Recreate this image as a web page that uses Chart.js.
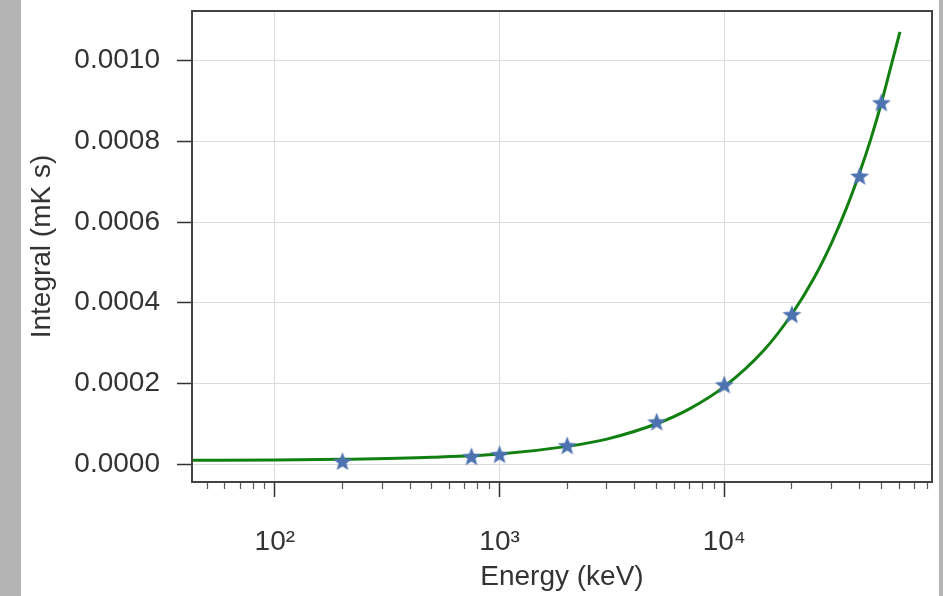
<!DOCTYPE html>
<html>
<head>
<meta charset="utf-8">
<script src="https://cdn.jsdelivr.net/npm/chart.js@4"></script>
<style>
  html, body { margin: 0; padding: 0; background: #b4b4b4; }
  #wrap { width: 943px; height: 596px; position: relative;
    background: linear-gradient(to right, #b4b4b4 0 21px, #ffffff 21px 939px, #b4b4b4 939px); }
  canvas { display: block; }
</style>
</head>
<body>
<div id="wrap"><canvas id="chart" width="943" height="596"></canvas></div>
<script>
// fitted curve
const curveEnergy = [43, 100, 200, 500, 1000, 2000, 3000, 5000, 7000, 10000, 15000, 20000, 25000, 30000, 35000, 40000, 45000, 50000, 55000, 60500];
const curveIntegral = [0.0000095, 0.000010, 0.000012, 0.000017, 0.000025, 0.000044, 0.000062, 0.000100, 0.000137, 0.000192, 0.000282, 0.000372, 0.000460, 0.000548, 0.000635, 0.000722, 0.000808, 0.000895, 0.000983, 0.001071];

// measured points (stars)
const starEnergy = [200, 750, 1000, 2000, 5000, 10000, 20000, 40000, 50000];
const starIntegral = [0.000005, 0.000017, 0.000022, 0.000044, 0.000103, 0.000195, 0.000369, 0.000712, 0.000894];

const yTicks = [0, 0.0002, 0.0004, 0.0006, 0.0008, 0.0010];
const xMajorTicks = [100, 1000, 10000];
const xMajorLabels = { 100: '10²', 1000: '10³', 10000: '10⁴' };

const textColor = '#333333';
const font = { family: 'Liberation Sans, Arial, sans-serif', size: 28 };

function starImage(r, color) {
  const c = document.createElement('canvas');
  c.width = c.height = r * 2 + 2;
  const g = c.getContext('2d');
  g.beginPath();
  for (let i = 0; i < 10; i++) {
    const rad = i % 2 === 0 ? r : r * 0.42;
    const a = -Math.PI / 2 + i * Math.PI / 5;
    const px = r + 1 + rad * Math.cos(a), py = r + 1 + rad * Math.sin(a);
    if (i === 0) g.moveTo(px, py); else g.lineTo(px, py);
  }
  g.closePath();
  g.fillStyle = color;
  g.fill();
  return c;
}

const minorTicks = [];
[10, 100, 1000, 10000].forEach(d => {
  for (let s = 2; s <= 9; s++) minorTicks.push(s * d);
});

const xMin = 42.8, xMax = 84000;

function noPad(s) {
  s.paddingTop = 0; s.paddingBottom = 0; s.paddingLeft = 0; s.paddingRight = 0;
}

new Chart(document.getElementById('chart'), {
  type: 'scatter',
  data: {
    datasets: [
      {
        label: 'fit',
        data: curveEnergy.map((e, i) => ({ x: e, y: curveIntegral[i] })),
        showLine: true,
        borderColor: '#118011',
        borderWidth: 3,
        pointRadius: 0,
        cubicInterpolationMode: 'monotone',
        order: 2
      },
      {
        label: 'data',
        data: starEnergy.map((e, i) => ({ x: e, y: starIntegral[i] })),
        pointStyle: starImage(10, '#4c72b0'),
        pointRadius: 10,
        order: 1
      }
    ]
  },
  options: {
    responsive: false,
    animation: false,
    layout: { padding: { left: 0, right: 10, top: 8, bottom: 0 } },
    plugins: { legend: { display: false }, tooltip: { enabled: false } },
    scales: {
      x: {
        type: 'logarithmic',
        min: xMin, max: xMax,
        weight: 1,
        afterBuildTicks: s => { s.ticks = xMajorTicks.map(v => ({ value: v })); },
        afterFit: s => { s.height = 114; noPad(s); },
        ticks: { font, color: textColor, padding: 28, maxRotation: 0,
          callback: v => xMajorLabels[v] || '' },
        grid: { color: '#dcdcdc', lineWidth: 1, tickLength: 15, tickColor: '#333333', tickWidth: 1.5 },
        border: { color: '#444444', width: 2 },
        title: { display: true, text: 'Energy (keV)', font, color: textColor, padding: { top: 0, bottom: 2 } }
      },
      xMinor: {
        type: 'logarithmic',
        position: 'bottom',
        min: xMin, max: xMax,
        weight: 0,
        afterBuildTicks: s => { s.ticks = minorTicks.filter(v => v > xMin && v < xMax).map(v => ({ value: v })); },
        afterFit: s => { s.height = 0; noPad(s); },
        ticks: { display: false },
        grid: { drawOnChartArea: false, tickLength: 7, tickColor: '#555555', tickWidth: 1.2 },
        border: { display: false }
      },
      y: {
        min: -0.0000443, max: 0.001123,
        afterBuildTicks: s => { s.ticks = yTicks.map(v => ({ value: v })); },
        afterFit: s => { s.width = 192; noPad(s); },
        ticks: { font, color: textColor, padding: 17, callback: v => v.toFixed(4) },
        grid: { color: '#dcdcdc', lineWidth: 1, tickLength: 15, tickColor: '#333333', tickWidth: 1.5 },
        border: { color: '#444444', width: 2 },
        title: { display: true, text: 'Integral (mK s)', font, color: textColor, padding: { top: 25, bottom: 0 } }
      }
    }
  },
  plugins: [{
    id: 'frame',
    afterDraw(chart) {
      const { ctx, chartArea: a } = chart;
      ctx.save();
      ctx.strokeStyle = '#444444';
      ctx.lineWidth = 2;
      ctx.strokeRect(a.left, a.top, a.right - a.left, a.bottom - a.top);
      ctx.restore();
    }
  }]
});
</script>
</body>
</html>
